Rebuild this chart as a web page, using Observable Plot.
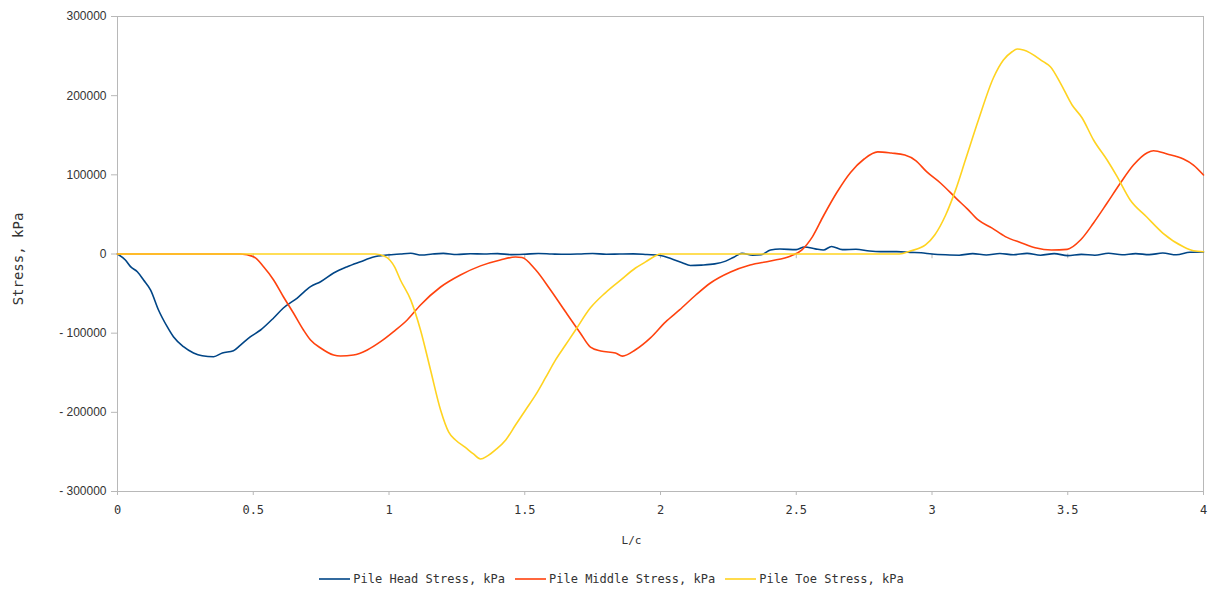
<!DOCTYPE html>
<html>
<head>
<meta charset="utf-8">
<script src="https://cdn.jsdelivr.net/npm/d3@7"></script>
<script src="https://cdn.jsdelivr.net/npm/@observablehq/plot@0.6"></script>
<style>
  html, body { margin: 0; padding: 0; background: #fff; }
  #chart svg { display: block; }
  .legend {
    display: flex; justify-content: center; align-items: center;
    font-family: "DejaVu Sans Mono", monospace; font-size: 12px; color: #333;
    height: 14px; margin-top: 10px; gap: 10px; padding-left: 13px;
  }
  .legend .item { display: flex; align-items: center; gap: 3px; }
  .legend svg { display: block; }
</style>
</head>
<body>
<div id="chart"></div>
<div class="legend" id="legend"></div>
<script>
// Stress histories at three pile sections versus normalised time L/c
const seriesNames = ["Pile Head Stress, kPa", "Pile Middle Stress, kPa", "Pile Toe Stress, kPa"];
const seriesColors = ["#004586", "#ff420e", "#ffd320"];

const headT = [0, 0.029, 0.048, 0.073, 0.096, 0.122, 0.151, 0.183, 0.206, 0.243, 0.28, 0.312, 0.354, 0.386, 0.427, 0.453, 0.49, 0.527, 0.575, 0.611, 0.662, 0.711, 0.748, 0.796, 0.846, 0.895, 0.943, 0.993, 1.042, 1.08, 1.12, 1.16, 1.2, 1.25, 1.3, 1.35, 1.4, 1.45, 1.5, 1.55, 1.6, 1.65, 1.7, 1.75, 1.8, 1.85, 1.9, 1.95, 2.0, 2.04, 2.08, 2.11, 2.15, 2.2, 2.24, 2.27, 2.3, 2.34, 2.37, 2.405, 2.44, 2.5, 2.53, 2.57, 2.6, 2.63, 2.67, 2.72, 2.77, 2.81, 2.87, 2.92, 2.96, 3.0, 3.05, 3.1, 3.15, 3.2, 3.25, 3.3, 3.35, 3.4, 3.45, 3.5, 3.55, 3.6, 3.65, 3.7, 3.75, 3.8, 3.85, 3.9, 3.95, 4.0];
const headStress = [0, -7600, -16000, -22400, -32800, -45500, -70700, -91800, -104500, -117100, -125000, -128500, -129700, -125000, -122100, -115000, -104500, -96000, -80800, -68200, -55600, -41300, -35000, -24000, -16000, -9700, -3800, -1300, 0, 900, -1300, 0, 800, -600, 300, 0, 500, -800, -300, 600, 0, -400, 0, 700, -300, 0, 200, -700, -1800, -6000, -11000, -14500, -14000, -12500, -9000, -4000, 800, -1500, -1000, 5000, 6300, 5500, 8800, 6500, 5000, 9500, 5500, 6000, 3800, 3000, 3000, 2000, 1500, 0, -1000, -1500, 500, -1200, 600, -1000, 800, -1500, 500, -2000, -500, -1500, 1000, -1000, 500, -800, 1200, -1000, 2200, 2500];

const middleT = [0, 0.453, 0.501, 0.538, 0.575, 0.611, 0.648, 0.685, 0.711, 0.748, 0.796, 0.821, 0.869, 0.92, 0.969, 1.017, 1.067, 1.116, 1.19, 1.263, 1.337, 1.41, 1.466, 1.49, 1.54, 1.595, 1.65, 1.705, 1.742, 1.78, 1.834, 1.86, 1.908, 1.963, 2.018, 2.07, 2.13, 2.184, 2.258, 2.33, 2.405, 2.48, 2.52, 2.56, 2.6, 2.65, 2.7, 2.75, 2.8, 2.85, 2.9, 2.94, 2.98, 3.03, 3.09, 3.13, 3.17, 3.22, 3.27, 3.33, 3.38, 3.44, 3.498, 3.547, 3.595, 3.645, 3.694, 3.742, 3.793, 3.816, 3.866, 3.926, 3.963, 4.0];
const middleStress = [0, 0, -3400, -16000, -32800, -54000, -74500, -96000, -108600, -118700, -127600, -128800, -127600, -121200, -110800, -98100, -83400, -64400, -41700, -26500, -15000, -7600, -3800, -4500, -20000, -45500, -73000, -100000, -117500, -122500, -125000, -129000, -121000, -106000, -86000, -70700, -51800, -36600, -22700, -13900, -8800, -2500, 5000, 22000, 48000, 78000, 103000, 120000, 129000, 127500, 125000, 118000, 104000, 90000, 70000, 57000, 43000, 33000, 22000, 14000, 8000, 5000, 5900, 17700, 39200, 64400, 89700, 112400, 128000, 130400, 126300, 119900, 112400, 99800];

const toeT = [0, 0.95, 0.99, 1.02, 1.042, 1.08, 1.116, 1.153, 1.19, 1.22, 1.245, 1.28, 1.311, 1.337, 1.363, 1.392, 1.43, 1.466, 1.503, 1.54, 1.576, 1.613, 1.65, 1.687, 1.742, 1.797, 1.853, 1.908, 1.945, 1.98, 2.0, 2.88, 2.92, 2.976, 3.01, 3.05, 3.087, 3.123, 3.171, 3.226, 3.263, 3.295, 3.314, 3.337, 3.41, 3.436, 3.473, 3.516, 3.553, 3.595, 3.645, 3.682, 3.73, 3.79, 3.85, 3.926, 3.963, 4.0];
const toeStress = [0, 0, -4000, -16000, -32800, -58000, -96000, -146500, -197000, -225000, -235000, -244000, -252600, -259000, -255000, -247500, -235000, -216000, -197000, -178000, -156600, -134000, -115000, -96000, -68000, -49000, -33000, -17700, -10000, -2500, 0, 0, 3800, 11400, 24000, 49000, 81000, 118700, 169200, 222300, 245000, 255500, 258900, 257600, 242900, 236600, 215900, 188200, 171800, 144000, 118700, 97700, 68200, 47000, 26500, 9200, 4200, 2900];

const xTicks = [0, 0.5, 1, 1.5, 2, 2.5, 3, 3.5, 4];
const yTicks = [-300000, -200000, -100000, 0, 100000, 200000, 300000];

const toRows = (ts, vs, name) => ts.map((t, i) => ({t, v: vs[i], name}));
const rows = [
  ...toRows(headT, headStress, seriesNames[0]),
  ...toRows(middleT, middleStress, seriesNames[1]),
  ...toRows(toeT, toeStress, seriesNames[2])
];

const mono = "DejaVu Sans Mono, monospace";

const chart = Plot.plot({
  width: 1210,
  height: 562,
  marginLeft: 117,
  marginRight: 7,
  marginTop: 16,
  marginBottom: 71,
  style: {fontFamily: "Liberation Sans, Arial, sans-serif", fontSize: "12px", color: "#333", background: "#fff"},
  x: {domain: [0, 4], ticks: xTicks, tickFormat: d => String(d), label: null},
  y: {domain: [-300000, 300000], ticks: yTicks, label: null},
  color: {domain: seriesNames, range: seriesColors},
  marks: [
    Plot.frame({stroke: "#b8b8b8"}),
    Plot.axisY({ticks: yTicks, tickFormat: d => (d < 0 ? "- " : "") + Math.abs(d), tickSize: 6, tickPadding: 5, stroke: "#b8b8b8", fill: "#333", label: null, fontSize: 12}),
    Plot.axisX({ticks: xTicks, tickFormat: d => String(d), tickSize: 4, tickPadding: 10, stroke: "#b8b8b8", fill: "#333", label: null, fontFamily: mono, fontSize: 12}),
    // short tick marks along the zero line
    Plot.ruleX(xTicks, {y1: 0, y2: -6000, stroke: "#b8b8b8"}),
    Plot.line(rows, {x: "t", y: "v", z: "name", stroke: "name", strokeWidth: 1.6, curve: "monotone-x"}),
    Plot.text(["L/c"], {frameAnchor: "bottom", dx: -29, dy: 52, fontFamily: mono, fontSize: 11, fill: "#333"}),
    Plot.text(["Stress, kPa"], {frameAnchor: "left", textAnchor: "middle", rotate: -90, dx: -99, dy: 5, fontFamily: mono, fontSize: 14, fill: "#333"})
  ]
});
document.getElementById("chart").append(chart);

// legend below the plot
const legend = document.getElementById("legend");
seriesNames.forEach((name, i) => {
  const item = document.createElement("div");
  item.className = "item";
  item.innerHTML = `<svg width="31" height="4"><line x1="0" x2="31" y1="2" y2="2" stroke="${seriesColors[i]}" stroke-width="1.6"/></svg><span>${name}</span>`;
  legend.append(item);
});
</script>
</body>
</html>
